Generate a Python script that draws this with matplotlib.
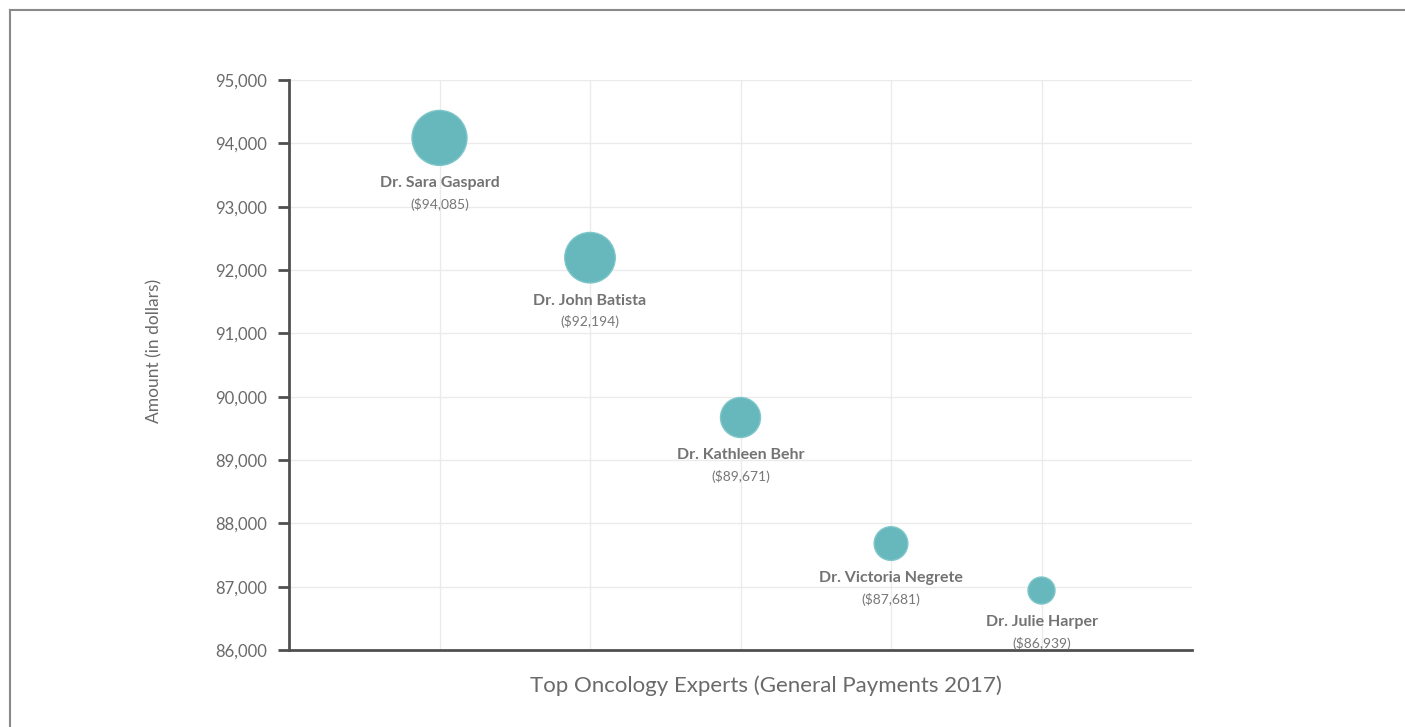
import matplotlib.pyplot as plt
from matplotlib.lines import Line2D
from matplotlib.ticker import FuncFormatter

plt.rcParams['font.family'] = ['Lato', 'DejaVu Sans']

# Top five general payment recipients
doctors = ["Dr. Sara Gaspard", "Dr. John Batista", "Dr. Kathleen Behr",
           "Dr. Victoria Negrete", "Dr. Julie Harper"]
amounts = [94085, 92194, 89671, 87681, 86939]
bubble_z = [55, 50.5, 40, 33.7, 27]

DPI = 100
fig = plt.figure(figsize=(14.05, 7.27), dpi=DPI)
ax = fig.add_axes([0.2057, 0.1059, 0.6427, 0.7841])

xs = list(range(1, len(doctors) + 1))
# bubble diameter in px -> marker area in points^2
sizes = [(d * 72 / DPI) ** 2 for d in bubble_z]
ax.scatter(xs, amounts, s=sizes, color='#66b8bd', edgecolor='#7fc6c9',
           linewidth=1, zorder=3)

for x, y, name, d in zip(xs, amounts, doctors, bubble_z):
    off = (d / 2 + 18) * 72 / DPI
    ax.annotate(name, (x, y), xytext=(0, -off), textcoords='offset points',
                ha='center', va='center', fontsize=11.5, fontweight='bold',
                color='#737373', zorder=5)
    ax.annotate(f"(${y:,})", (x, y), xytext=(0, -off - 21 * 72 / DPI),
                textcoords='offset points', ha='center', va='center',
                fontsize=10, color='#777777', zorder=5)

ax.set_xlim(0, 6)
ax.set_ylim(86000, 95000)
ax.set_xticks(xs)
ax.set_xticklabels([])
ax.set_yticks(range(86000, 95001, 1000))
ax.yaxis.set_major_formatter(FuncFormatter(lambda v, p: f"{int(v):,}"))

ax.grid(True, color='#ebebeb', linewidth=1)
ax.set_axisbelow(True)
for side in ('top', 'right'):
    ax.spines[side].set_visible(False)
for side in ('left', 'bottom'):
    ax.spines[side].set_color('#505050')
    ax.spines[side].set_linewidth(2)
ax.tick_params(axis='x', length=0)
ax.tick_params(axis='y', length=8, width=2, color='#505050',
               labelsize=12, labelcolor='#6a6a6a', pad=8)

ax.set_xlabel("Top Oncology Experts (General Payments 2017)",
              fontsize=16, color='#6a6a6a')
ax.xaxis.set_label_coords(0.528, -0.045)
ax.set_ylabel("Amount (in dollars)", fontsize=12.5, color='#6a6a6a')
ax.yaxis.set_label_coords(-0.140, 0.525)

# outer frame, left and top edges only
fig.add_artist(Line2D([9.5 / 1405, 9.5 / 1405], [-0.1, 1 - 10 / 727],
                      transform=fig.transFigure, color='#8a8a8a', linewidth=1.5))
fig.add_artist(Line2D([9.5 / 1405, 1.1], [1 - 10 / 727, 1 - 10 / 727],
                      transform=fig.transFigure, color='#8a8a8a', linewidth=1.5))

fig.savefig('out.png', dpi=DPI)
